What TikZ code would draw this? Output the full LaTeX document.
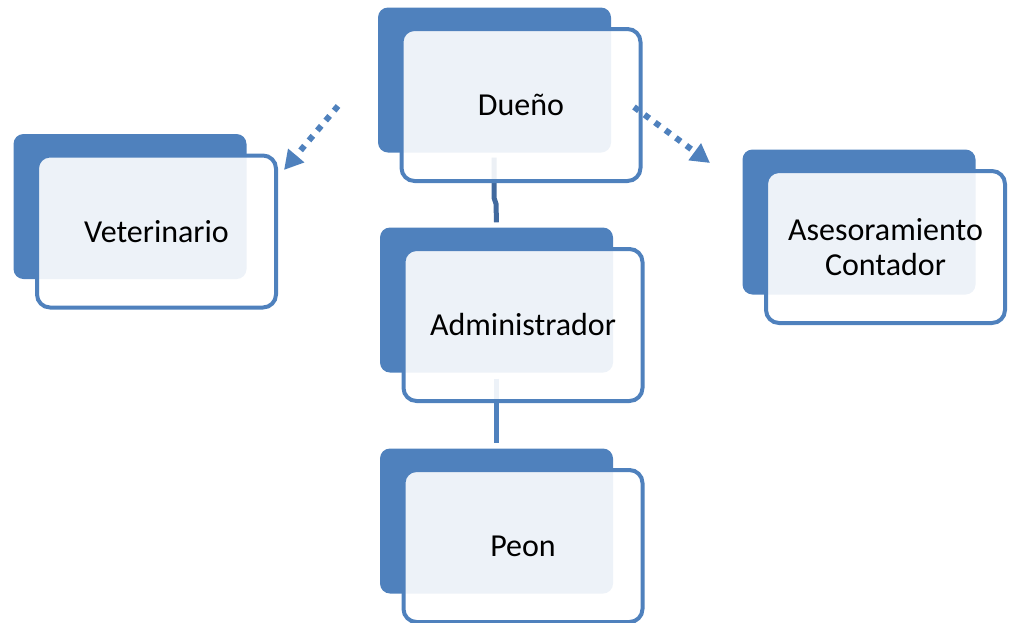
\documentclass[tikz,border=0pt]{standalone}
\usepackage{fontspec}
\setmainfont{Carlito}
\usetikzlibrary{arrows.meta,calc,backgrounds}
\definecolor{boxblue}{HTML}{4F81BD}
\definecolor{linkblue}{HTML}{41699E}
\tikzset{
  backcard/.style={rectangle, rounded corners=10pt, fill=boxblue,
    minimum width=233pt, minimum height=145pt, inner sep=0pt},
  frontcard/.style={rectangle, rounded corners=13pt, draw=boxblue, line width=4pt,
    fill=white, fill opacity=0.9, text opacity=1, text=black,
    minimum width=239pt, minimum height=152pt, inner sep=0pt, align=center,
    font=\fontsize{32}{35}\selectfont},
  link/.style={line width=5pt},
  dotarrow/.style={draw=boxblue, line width=6pt, dash pattern=on 6pt off 7pt,
    -{Triangle[length=19pt,width=20pt]}},
}
\begin{document}
\begin{tikzpicture}[x=1pt,y=-1pt]
\useasboundingbox (0,0) rectangle (1015,622);

% cards: solid back plate offset up-left, translucent front card with the label
\node[backcard] (dueno-back) at (494.5,80) {};
\node[frontcard] (dueno) at (521,105) {Dueño};

\node[backcard] (vet-back) at (130,206.5) {};
\node[frontcard] (vet) at (156.5,231.5) {Veterinario};

\node[backcard] (ases-back) at (859,222) {};
\node[frontcard] (ases) at (885.5,247) {Asesoramiento\\Contador};

\node[backcard] (admin-back) at (496.5,300) {};
\node[frontcard] (admin) at (523,325) {Administrador};

\node[backcard] (peon-back) at (496.5,521) {};
\node[frontcard] (peon) at (523,546) {Peon};

% hierarchy links, kept under the cards
\begin{pgfonlayer}{background}
  \draw[link, draw=linkblue] ($(dueno-back.south)+(-0.5,5)$) -- ++(0,40) -- ++(2,6)
    -- ($(admin-back.north)+(0,-5)$);
  \draw[link, draw=boxblue] ($(admin-back.south)+(0,6)$) -- ($(peon-back.north)+(0,-5)$);
\end{pgfonlayer}

% advisory links
\coordinate (vet-from) at (338,106);
\coordinate (vet-to) at (284,170);
\coordinate (ases-from) at (634,107);
\coordinate (ases-to) at (710,163);
\draw[dotarrow] (vet-from) -- (vet-to);
\draw[dotarrow] (ases-from) -- (ases-to);
\end{tikzpicture}
\end{document}
